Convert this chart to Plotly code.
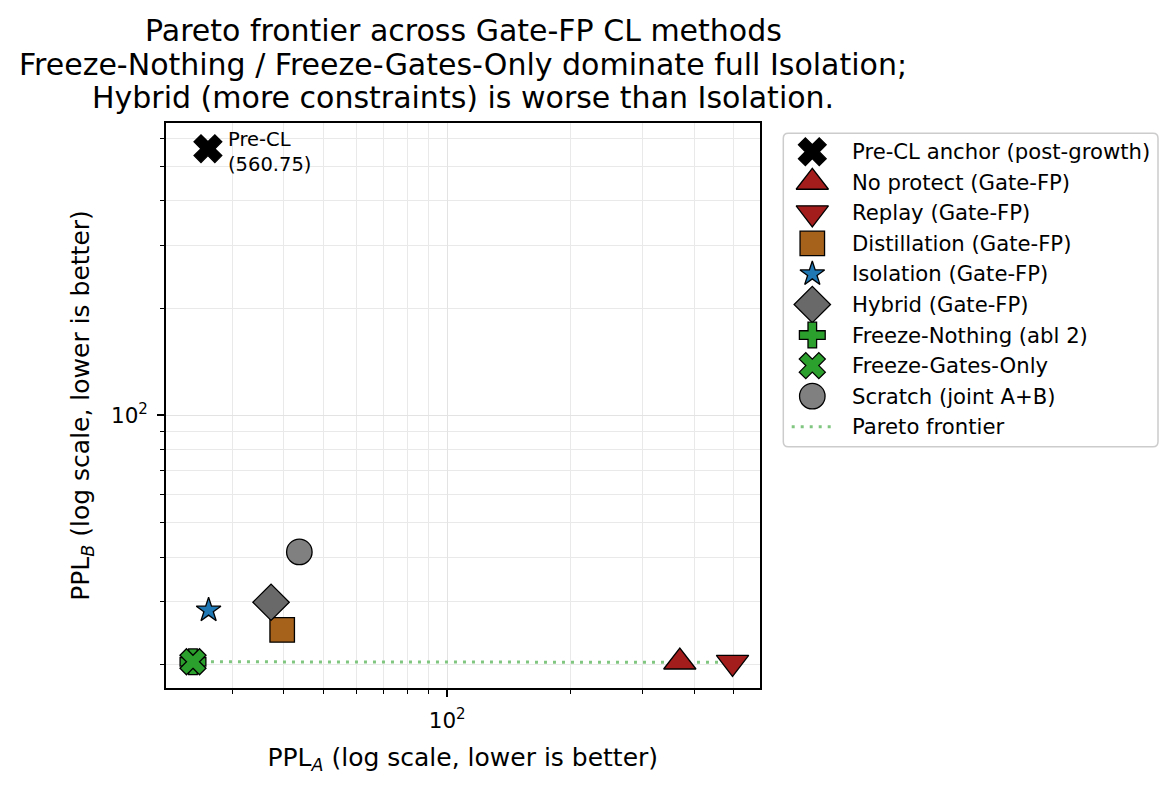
import numpy as np
import plotly.graph_objects as go

# ---------------- data ----------------
methods = [
    "Pre-CL anchor (post-growth)",
    "No protect (Gate-FP)",
    "Replay (Gate-FP)",
    "Distillation (Gate-FP)",
    "Isolation (Gate-FP)",
    "Hybrid (Gate-FP)",
    "Freeze-Nothing (abl 2)",
    "Freeze-Gates-Only",
    "Scratch (joint A+B)",
]
ppl_a = [26.1, 369.0, 496.0, 39.6, 26.2, 37.2, 24.0, 24.0, 43.6]
ppl_b = [560.75, 20.32, 20.28, 25.0, 28.4, 29.9, 20.35, 20.35, 41.4]

symbols = ["x", "triangle-up", "triangle-down", "square", "star", "diamond", "cross", "x", "circle"]
colors = ["#000000", "#a31d1d", "#a31d1d", "#a6611a", "#1f77b4", "#696969", "#2ca02c", "#2ca02c", "#808080"]
sizes = [24.5, 28, 28, 24.5, 18.5, 28, 21.5, 23, 25.5]

pareto_label = "Pareto frontier"
pareto_color = "#80c680"
title_lines = [
    "Pareto frontier across Gate-FP CL methods",
    "Freeze-Nothing / Freeze-Gates-Only dominate full Isolation;",
    "Hybrid (more constraints) is worse than Isolation.",
]
anchor_label = "Pre-CL<br>(%.2f)" % ppl_b[0]

# pareto frontier (minimise both)
order = sorted(range(len(ppl_a)), key=lambda i: (ppl_a[i], ppl_b[i]))
front_x, front_y, best = [], [], np.inf
for i in order:
    if ppl_b[i] < best:
        best = ppl_b[i]
        front_x.append(ppl_a[i])
        front_y.append(ppl_b[i])

# ---------------- layout helpers ----------------
FW, FH = 1175, 789
ML, MR, MT, MB = 166, 17, 123, 101
W = FW - ML - MR
H = FH - MT - MB


def px_x(px):
    return (px - ML) / W


def px_y(py):
    return (FH - MB - py) / H


FONT = "DejaVu Sans"

lx = np.log10(ppl_a)
ly = np.log10(ppl_b)
padx = 0.05 * (lx.max() - lx.min())
pady = 0.05 * (ly.max() - ly.min())
xrange_ = [lx.min() - padx, lx.max() + padx]
yrange_ = [ly.min() - pady, ly.max() + pady]

minor_vals = [m * 10 ** e for e in (1, 2) for m in range(2, 10)]

fig = go.Figure()

# pareto line (below markers)
fig.add_trace(go.Scatter(
    x=front_x, y=front_y, mode="lines", name=pareto_label, showlegend=False,
    line=dict(color=pareto_color, width=3, dash="3px,6px"), hoverinfo="skip",
))

for i, m in enumerate(methods):
    fig.add_trace(go.Scatter(
        x=[ppl_a[i]], y=[ppl_b[i]], mode="markers", name=m, showlegend=False,
        marker=dict(symbol=symbols[i], size=sizes[i], color=colors[i],
                    line=dict(color="black", width=1.3)),
        cliponaxis=False,
    ))

# ---------------- custom legend (large marker keys) ----------------
LEG_L, LEG_R, LEG_T, LEG_B = 783.3, 1158.0, 133.3, 446.7
row0, row_gap = 151.7, 30.56
key_x, text_x = 812.3, 849.5
LEG_FONT = 21.2

for i, m in enumerate(methods):
    ry = row0 + row_gap * i
    fig.add_trace(go.Scatter(
        x=[key_x], y=[ry], xaxis="x2", yaxis="y2", mode="markers", showlegend=False,
        marker=dict(symbol=symbols[i], size=sizes[i], color=colors[i],
                    line=dict(color="black", width=1.3)),
        cliponaxis=False, hoverinfo="skip",
    ))
    fig.add_annotation(x=text_x, y=ry, xref="x2", yref="y2", text=m, showarrow=False,
                       xanchor="left", yanchor="middle",
                       font=dict(family=FONT, size=LEG_FONT, color="black"))

ry = row0 + row_gap * len(methods)
fig.add_trace(go.Scatter(
    x=[791.7, 833.3], y=[ry, ry], xaxis="x2", yaxis="y2", mode="lines", showlegend=False,
    line=dict(color=pareto_color, width=3, dash="3px,6px"), cliponaxis=False, hoverinfo="skip",
))
fig.add_annotation(x=text_x, y=ry, xref="x2", yref="y2", text=pareto_label, showarrow=False,
                   xanchor="left", yanchor="middle",
                   font=dict(family=FONT, size=LEG_FONT, color="black"))

# rounded legend frame
r = 5
x0, x1 = px_x(LEG_L), px_x(LEG_R)
y0, y1 = px_y(LEG_T), px_y(LEG_B)
rx, ry_ = r / W, r / H
path = (f"M {x0 + rx},{y0} L {x1 - rx},{y0} Q {x1},{y0} {x1},{y0 - ry_} "
        f"L {x1},{y1 + ry_} Q {x1},{y1} {x1 - rx},{y1} "
        f"L {x0 + rx},{y1} Q {x0},{y1} {x0},{y1 + ry_} "
        f"L {x0},{y0 - ry_} Q {x0},{y0} {x0 + rx},{y0} Z")
fig.add_shape(type="path", path=path, xref="paper", yref="paper",
              line=dict(color="#cccccc", width=1.5), fillcolor="rgba(255,255,255,0.8)", layer="below")

# title, one annotation per line (matplotlib line spacing)
title_centers = [30, 64.5, 98]
for txt, cy in zip(title_lines, title_centers):
    fig.add_annotation(x=px_x(463), y=px_y(cy), xref="paper", yref="paper", text=txt,
                       showarrow=False, xanchor="center", yanchor="middle",
                       font=dict(family=FONT, size=30, color="black"))

# anchor annotation
fig.add_annotation(x=np.log10(ppl_a[0]), y=np.log10(ppl_b[0]), xref="x", yref="y",
                   text=anchor_label, showarrow=False, xanchor="left", yanchor="middle",
                   align="left", xshift=18, yshift=-3,
                   font=dict(family=FONT, size=19.5, color="black"))

axis_common = dict(
    type="log", showline=True, linecolor="black", linewidth=1.6, mirror=True,
    ticks="outside", ticklen=7, tickwidth=1.6, tickcolor="black",
    tickmode="array", tickvals=[100], ticktext=["10<sup>2</sup>"],
    tickfont=dict(family=FONT, size=21.5, color="black"),
    showgrid=True, gridcolor="#e3e3e3", gridwidth=1, zeroline=False,
    minor=dict(tickmode="array", tickvals=minor_vals, ticks="outside", ticklen=4,
               tickwidth=1.2, tickcolor="black", showgrid=True, gridcolor="#e9e9e9", gridwidth=1),
)

fig.update_layout(
    width=FW, height=FH,
    margin=dict(l=ML, r=MR, t=MT, b=MB, autoexpand=False),
    paper_bgcolor="white", plot_bgcolor="white",
    font=dict(family=FONT, color="black"),
    xaxis=dict(domain=[0, px_x(759.5)], range=xrange_, anchor="y", ticklabelstandoff=5,
               title=dict(text="PPL<sub><i>A</i></sub> (log scale, lower is better)",
                          font=dict(family=FONT, size=25), standoff=17),
               **axis_common),
    yaxis=dict(domain=[0, 1], range=yrange_, anchor="x", ticklabelstandoff=5,
               title=dict(text="PPL<sub><i>B</i></sub> (log scale, lower is better)",
                          font=dict(family=FONT, size=25), standoff=14),
               **axis_common),
    xaxis2=dict(domain=[px_x(LEG_L), px_x(LEG_R)], range=[LEG_L, LEG_R], anchor="y2",
                visible=False, fixedrange=True),
    yaxis2=dict(domain=[px_y(LEG_B), px_y(LEG_T)], range=[LEG_B, LEG_T], anchor="x2",
                visible=False, fixedrange=True),
    showlegend=False,
)

fig.write_html("out.html")
